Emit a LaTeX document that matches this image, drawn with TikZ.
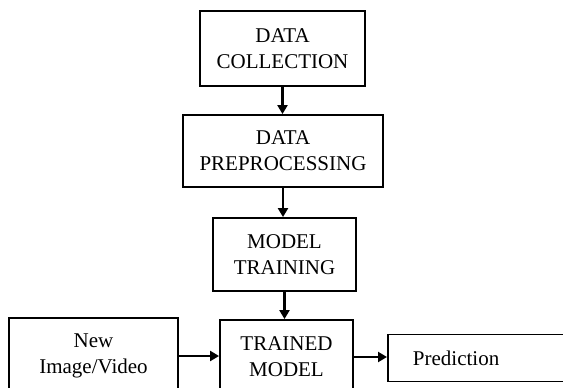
\documentclass[tikz,border=0pt]{standalone}
\usepackage{fontspec}
\setmainfont{Liberation Serif}
\usetikzlibrary{arrows.meta,calc}
\begin{document}
\begin{tikzpicture}[x=1pt,y=-1pt,
  box/.style={draw,line width=1.9pt,inner sep=0pt,align=center,
    font=\fontsize{21}{26}\selectfont},
  arr/.style={line width=2.4pt,-{Triangle[length=9pt,width=10pt]}}]
\useasboundingbox (0,0) rectangle (563,388);
\clip (0,0) rectangle (563,388);
\fill[white] (0,0) rectangle (563,388);
\node[box,minimum width=165pt,minimum height=75pt] (b1) at (282.5,48.5) {DATA\\COLLECTION};
\node[box,minimum width=200pt,minimum height=72pt] (b2) at (283,151) {DATA\\PREPROCESSING};
\node[box,minimum width=143pt,minimum height=73pt] (b3) at (284.5,254.5) {MODEL\\TRAINING};
\node[box,minimum width=133pt,minimum height=74pt] (b4) at (286.5,357) {TRAINED\\MODEL};
\node[box,minimum width=169pt,minimum height=76pt] (nw) at (93.5,356) {New\\Image/Video};
\node[box,anchor=west,minimum height=47pt,text width=158pt,align=left,inner xsep=25pt] (pred) at (387,358) {Prediction};
\draw[arr] (b1.south) -- (b1.south |- b2.north);
\draw[arr] (b2.south) -- (b2.south |- b3.north);
\draw[arr] (b3.south) -- (b3.south |- b4.north);
\draw[arr] (nw.east) -- (nw.east -| b4.west);
\draw[arr] (b4.east) -- (b4.east -| pred.west);
\end{tikzpicture}
\end{document}
